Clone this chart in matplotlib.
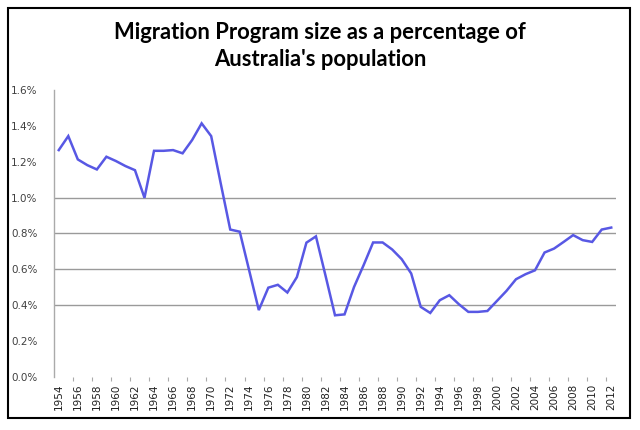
import matplotlib
matplotlib.use("Agg")
from matplotlib import pyplot as plt
from matplotlib.patches import Rectangle
import numpy as np

years = list(range(1954, 2013))
# migration program as % of population
pct = [1.265, 1.343, 1.213, 1.181, 1.157, 1.228, 1.204, 1.176, 1.153, 0.999,
       1.261, 1.261, 1.265, 1.247, 1.321, 1.414, 1.343, 1.080, 0.822, 0.810,
       0.592, 0.373, 0.498, 0.514, 0.471, 0.557, 0.749, 0.784, 0.566, 0.344,
       0.349, 0.502, 0.623, 0.750, 0.750, 0.711, 0.657, 0.577, 0.391, 0.357,
       0.428, 0.456, 0.406, 0.363, 0.363, 0.368, 0.424, 0.480, 0.545, 0.573,
       0.595, 0.694, 0.716, 0.753, 0.791, 0.763, 0.753, 0.822, 0.833]
y_ticks = [0.0, 0.2, 0.4, 0.6, 0.8, 1.0, 1.2, 1.4, 1.6]
grid_levels = [0.4, 0.6, 0.8, 1.0]

fig = plt.figure(figsize=(6.4, 4.3), dpi=100)
ax = fig.add_axes([54 / 640, 53 / 430, 562 / 640, 287 / 430])

x = np.arange(len(years))
ax.plot(x, pct, color="#5858e4", lw=1.8, solid_joinstyle="miter")

for g in grid_levels:
    ax.axhline(g, color="#9a9a9a", lw=1.0, zorder=0)

ax.set_xlim(-0.5, len(years) - 0.5)
ax.set_ylim(0, 1.6)

ax.set_yticks(y_ticks)
ax.set_yticklabels([f"{v:.1f}%" for v in y_ticks])
ax.tick_params(axis="y", length=0, pad=12, labelsize=7.5, labelcolor="#404040")

even = x[::2]
ax.set_xticks(even)
ax.set_xticklabels([str(years[i]) for i in even], rotation=90)
ax.set_xticks(np.arange(1.5, len(years) - 0.5, 2), minor=True)
ax.tick_params(axis="x", which="major", length=0, pad=5, labelsize=7.5,
               labelcolor="#202020")
ax.tick_params(axis="x", which="minor", length=3, color="#aaaaaa", width=0.8)

for s in ["top", "right", "bottom"]:
    ax.spines[s].set_visible(False)
ax.spines["left"].set_color("#aaaaaa")
ax.spines["left"].set_linewidth(1.0)

fig.text(0.5, 1 - 46 / 430, "Migration Program size as a percentage of\nAustralia's population",
         ha="center", va="center", fontsize=15.8, fontweight="bold",
         family="Lato", linespacing=1.4, color="black")

fig.patches.append(Rectangle((8 / 640, 12 / 430), 622 / 640, 410 / 430,
                             transform=fig.transFigure, fill=False,
                             edgecolor="black", lw=1.5))

fig.savefig("out.png", dpi=100)
